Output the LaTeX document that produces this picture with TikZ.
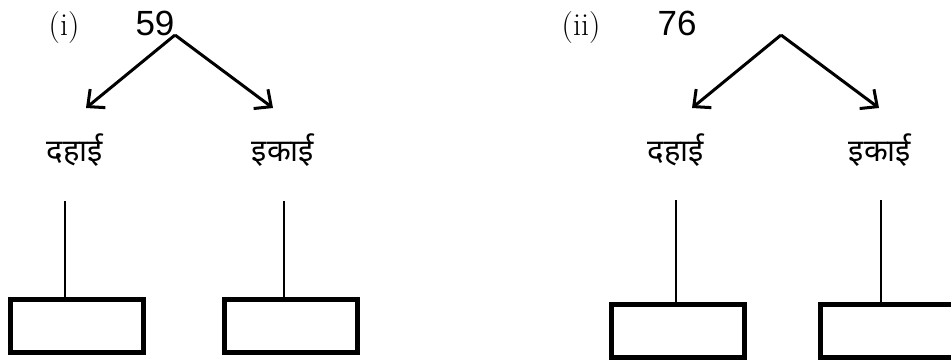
\documentclass[tikz,border=0pt]{standalone}
\usepackage{fontspec}
\newfontfamily\arialf{Liberation Sans}
\newfontfamily\devf[Script=Devanagari]{Noto Sans}
\usetikzlibrary{arrows.meta}
\begin{document}
\begin{tikzpicture}[x=1pt,y=-1pt,
  numlbl/.style={font=\arialf\fontsize{35}{40}\selectfont, inner sep=0pt, anchor=base},
  partlbl/.style={font=\rmfamily\fontsize{32}{36}\selectfont, inner sep=0pt, anchor=base},
  devlbl/.style={font=\devf\fontsize{31}{36}\selectfont, inner sep=0pt},
  arr/.style={line width=3pt, -{Straight Barb[length=13pt,width=24pt,line width=3pt]}},
  ansbox/.style={draw, line width=5pt, minimum width=133pt, minimum height=53pt, inner sep=0pt, outer sep=0pt},
  stem/.style={line width=1.5pt}
]
\useasboundingbox (0,0) rectangle (951,360);
% ---------- part (i)
\node[partlbl] (p1) at (64,35) {(i)};
\node[numlbl] (n1) at (155,35) {59};
\coordinate (a1) at (175,35);
\coordinate (t1l) at (86,108);
\coordinate (t1r) at (273,108);
\draw[arr] (a1) -- (t1l);
\draw[arr] (a1) -- (t1r);
\node[devlbl] (d1) at (75,150) {दहाई};
\node[devlbl] (e1) at (283,150) {इकाई};
\node[ansbox] (b1l) at (76.5,326) {};
\node[ansbox] (b1r) at (291,326) {};
\coordinate (s1l) at (65,201);
\coordinate (s1r) at (284,201);
\draw[stem] (s1l) -- (s1l |- b1l.north);
\draw[stem] (s1r) -- (s1r |- b1r.north);
% ---------- part (ii)
\node[partlbl] (p2) at (581,35) {(ii)};
\node[numlbl] (n2) at (677,35) {76};
\coordinate (a2) at (781,35);
\coordinate (t2l) at (692,108);
\coordinate (t2r) at (879,108);
\draw[arr] (a2) -- (t2l);
\draw[arr] (a2) -- (t2r);
\node[devlbl] (d2) at (676,150) {दहाई};
\node[devlbl] (e2) at (880,150) {इकाई};
\node[ansbox] (b2l) at (678,330.5) {};
\node[ansbox] (b2r) at (887,330.5) {};
\coordinate (s2l) at (676,200);
\coordinate (s2r) at (881,200);
\draw[stem] (s2l) -- (s2l |- b2l.north);
\draw[stem] (s2r) -- (s2r |- b2r.north);
\end{tikzpicture}
\end{document}
